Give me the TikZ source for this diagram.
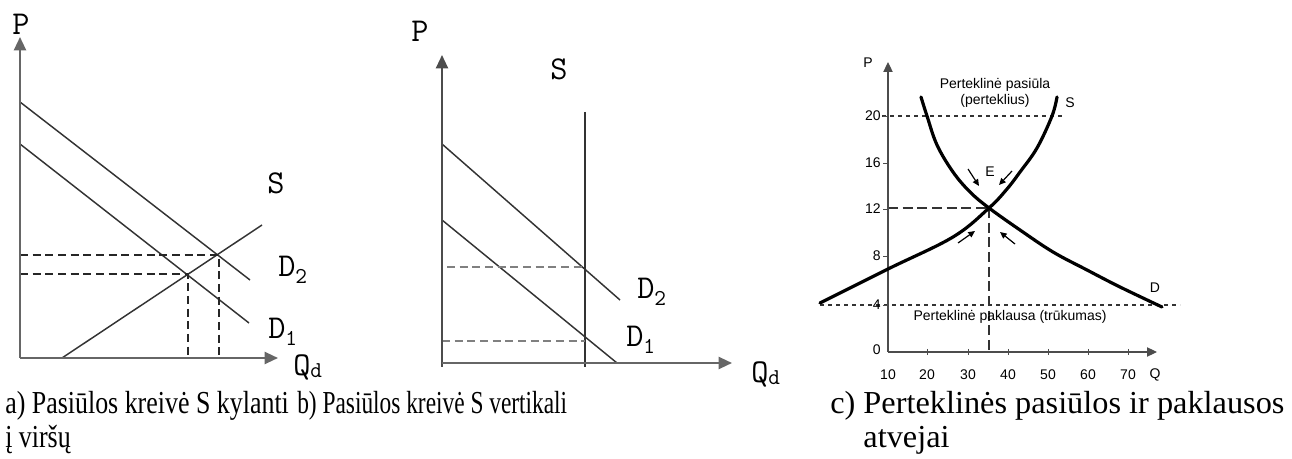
\documentclass[tikz,border=0pt]{standalone}
\usepackage{fontspec}
\setmainfont{Liberation Serif}
\newfontfamily\capfont{Liberation Serif}
\newfontfamily\arialfont{Liberation Sans}
\usetikzlibrary{arrows.meta}
\newcommand{\subsc}[1]{\raisebox{-0.22em}{\fontsize{17}{17}\selectfont #1}}
\newcommand{\subsd}[1]{\raisebox{-0.08em}{\fontsize{17}{17}\selectfont #1}}
\tikzset{
  axisab/.style={draw=black!60, line width=1.6pt, -{Triangle[length=10pt,width=9pt]}},
  lineab/.style={draw=black!80, line width=1.1pt},
  dashab/.style={draw=black!85, line width=1.1pt, dash pattern=on 6pt off 3.5pt},
  dashb/.style={draw=black!50, line width=1.4pt, dash pattern=on 6pt off 3.5pt},
  courlab/.style={font=\ttfamily\fontsize{25}{25}\selectfont, inner sep=0pt},
  caplab/.style={font=\capfont\fontsize{24}{24}\selectfont, inner sep=0pt, anchor=base west},
  axisc/.style={draw=black!70, line width=0.8pt, -{Triangle[length=7.5pt,width=7pt]}},
  curvec/.style={draw=black, line width=2.4pt, line cap=round},
  dashc/.style={draw=black!80, line width=0.8pt, dash pattern=on 3pt off 3pt},
  dashclong/.style={draw=black!80, line width=0.9pt, dash pattern=on 7.5pt off 3.5pt},
  arrc/.style={draw=black, line width=0.9pt, -{Triangle[length=5pt,width=4.5pt]}},
  arlab/.style={font=\arialfont\fontsize{10.5}{12}\selectfont, inner sep=0pt},
}
\begin{document}
\begin{tikzpicture}[x=0.75pt,y=-0.75pt]
\useasboundingbox (0,0) rectangle (1292,459);
% ---------- panel a ----------
\coordinate (aO) at (20,358);
\coordinate (aPt) at (20,37);
\coordinate (aQt) at (278,358);
\coordinate (aD2s) at (20,102);
\coordinate (aD2e) at (250,280);
\coordinate (aD1s) at (20,144);
\coordinate (aD1e) at (249,323);
\coordinate (aSs) at (62,358);
\coordinate (aSe) at (262,225);
\coordinate (aE2) at (219,255);
\coordinate (aE1) at (188,274);
\coordinate (aE2y) at (20,255);
\coordinate (aE1y) at (20,274);
\coordinate (aE2x) at (219,358);
\coordinate (aE1x) at (188,358);
\draw[lineab] (aD2s) -- (aD2e);
\draw[lineab] (aD1s) -- (aD1e);
\draw[lineab] (aSs) -- (aSe);
\draw[dashab] (aE2y) -- (aE2) -- (aE2x);
\draw[dashab] (aE1y) -- (aE1) -- (aE1x);
\draw[axisab] (aO) -- (aPt);
\draw[axisab] (aO) -- (aQt);
\node[courlab] (aP) at (21,24) {P};
\node[courlab] (aS) at (276,183) {S};
\node[courlab, anchor=west] (aD2) at (278,270) {D\subsc{2}};
\node[courlab, anchor=west] (aD1) at (268,332) {D\subsc{1}};
\node[courlab, anchor=west] (aQ) at (293,367) {Q\subsd{d}};
% ---------- panel b ----------
\coordinate (bO) at (442,363);
\coordinate (bPt) at (442,55);
\coordinate (bQt) at (732,363);
\coordinate (bSt) at (585,112);
\coordinate (bSb) at (585,367);
\coordinate (bD2s) at (442,144);
\coordinate (bD2e) at (620,300);
\coordinate (bD1s) at (442,220);
\coordinate (bD1e) at (617,363);
\coordinate (bE2) at (585,267);
\coordinate (bE1) at (585,341);
\coordinate (bE2y) at (447,267);
\coordinate (bE1y) at (442,341);
\draw[lineab] (bSt) -- (bSb);
\draw[lineab] (bD2s) -- (bD2e);
\draw[lineab] (bD1s) -- (bD1e);
\draw[dashb] (bE2y) -- (bE2);
\draw[dashb] (bE1y) -- (bE1);
\draw[axisab, draw=black!70] (442,367) -- (bPt);
\draw[axisab] (bO) -- (bQt);
\node[courlab] (bP) at (420,31) {P};
\node[courlab] (bS) at (559,69) {S};
\node[courlab, anchor=west] (bD2) at (637,292) {D\subsc{2}};
\node[courlab, anchor=west] (bD1) at (626,340) {D\subsc{1}};
\node[courlab, anchor=west] (bQ) at (751,374) {Q\subsd{d}};
% ---------- panel c ----------
\coordinate (cO) at (888,352);
\coordinate (cPt) at (888,62);
\coordinate (cQt) at (1157,352);
\coordinate (cE) at (989,208);
\draw[dashc] (882,116) -- (1062,116);
\draw[dashc] (820,305) -- (1180,305);
\draw[dashclong] (888,208) -- (cE);
\draw[dashclong] (cE) -- (989,354);
\draw[axisc] (cO) -- (cPt);
\draw[axisc] (cO) -- (cQt);
\foreach \yy in {116,163,209,256,305} \draw[black!70, line width=0.7pt] (883,\yy) -- (888,\yy);
\foreach \xx in {927,968,1008,1048,1088,1128} \draw[black!70, line width=0.7pt] (\xx,349) -- (\xx,355);
\draw[curvec] plot[smooth, tension=0.6] coordinates {(820,303) (888,269) (953,237) (cE) (1007,189) (1020,172) (1037,148) (1052,116) (1057,97)};
\draw[curvec] plot[smooth, tension=0.6] coordinates {(921,97) (927,116) (937,145) (953,172) (970,192) (cE) (1020,230) (1053,252) (1087,270) (1120,287) (1162,307)};
\coordinate (c1s) at (968,169); \coordinate (c1e) at (979,186);
\coordinate (c2s) at (1012,171); \coordinate (c2e) at (999,185);
\coordinate (c3s) at (958,243); \coordinate (c3e) at (975,231);
\coordinate (c4s) at (1015,244); \coordinate (c4e) at (1000,232);
\draw[arrc] (c1s) -- (c1e);
\draw[arrc] (c2s) -- (c2e);
\draw[arrc] (c3s) -- (c3e);
\draw[arrc] (c4s) -- (c4e);
\node[arlab] (cP) at (868,63) {P};
\node[arlab] (cE lab) at (990,172) {E};
\node[arlab] (cS) at (1070,103) {S};
\node[arlab] (cD) at (1155,288) {D};
\node[arlab, align=center] (cps) at (995,93) {Perteklinė pasiūla\\(perteklius)};
\node[arlab] (cpk) at (1010,317) {Perteklinė paklausa (trūkumas)};
\node[arlab, anchor=east] (y20) at (881,116) {20};
\node[arlab, anchor=east] (y16) at (881,163) {16};
\node[arlab, anchor=east] (y12) at (881,209) {12};
\node[arlab, anchor=east] (y8) at (881,256) {8};
\node[arlab, anchor=east] (y4) at (881,305) {4};
\node[arlab, anchor=east] (y0) at (881,350) {0};
\foreach \xx/\lab in {888/10,927/20,968/30,1008/40,1048/50,1088/60,1128/70,1155/Q}
  \node[arlab] at (\xx,375) {\lab};
% ---------- captions ----------
\node[caplab] (capa1) at (5,414) {\scalebox{0.81}[1]{a) Pasiūlos kreivė S kylanti}};
\node[caplab] (capa2) at (5,447) {\scalebox{0.81}[1]{į viršų}};
\node[caplab] (capb1) at (297,414) {\scalebox{0.73}[1]{b) Pasiūlos kreivė S vertikali}};
\node[caplab] (capc1) at (830,414) {\scalebox{1.01}[1]{c) Perteklinės pasiūlos ir paklausos}};
\node[caplab] (capc2) at (830,447) {\scalebox{1.01}[1]{\phantom{c) }atvejai}};
\end{tikzpicture}
\end{document}
